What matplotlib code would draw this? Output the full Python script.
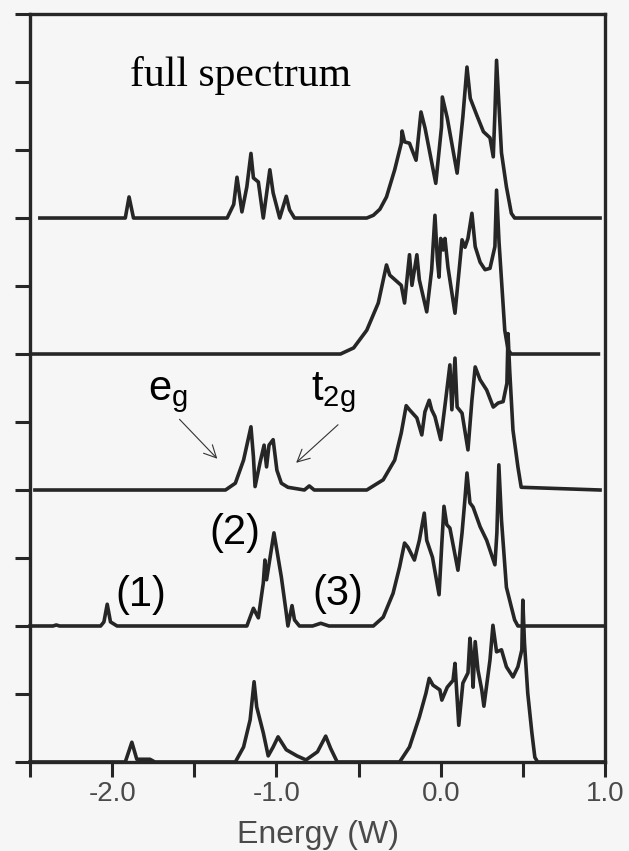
import matplotlib
matplotlib.use('Agg')
import matplotlib.pyplot as plt
import matplotlib.ticker as mticker


# energies (W) and intensities above each curve's own baseline
offsets = [8, 6, 4, 2, 0]

e_full = [-2.44, -1.92, -1.897, -1.87, -1.30, -1.26, -1.24, -1.21, -1.18, -1.155, -1.14, -1.11,
          -1.08, -1.04, -1.02, -0.98, -0.94, -0.92, -0.89, -0.45, -0.41, -0.37, -0.33, -0.28,
          -0.24, -0.235, -0.22, -0.19, -0.15, -0.12, -0.095, -0.03, 0.005, 0.01, 0.04, 0.10,
          0.135, 0.16, 0.18, 0.22, 0.26, 0.30, 0.32, 0.33, 0.34, 0.37, 0.40, 0.43, 0.45, 0.97]
i_full = [0, 0, 0.31, 0, 0, 0.2, 0.6, 0.09, 0.46, 0.95, 0.59, 0.53,
          0.0, 0.71, 0.37, 0.0, 0.32, 0.12, 0, 0, 0.04, 0.13, 0.31, 0.71,
          1.1, 1.28, 1.12, 1.1, 0.85, 1.56, 1.32, 0.51, 1.34, 1.78, 1.47, 0.66,
          1.49, 2.22, 1.76, 1.51, 1.27, 1.18, 0.9, 1.54, 2.32, 0.96, 0.46, 0.07, 0, 0]

e_b = [-2.49, -0.61, -0.53, -0.45, -0.38, -0.33, -0.31, -0.24, -0.22, -0.19, -0.175, -0.145,
       -0.13, -0.085, -0.055, -0.035, -0.02, -0.01, 0.0, 0.015, 0.026, 0.044, 0.087, 0.13,
       0.148, 0.166, 0.19, 0.21, 0.24, 0.27, 0.30, 0.33, 0.34, 0.355, 0.39, 0.41, 0.43, 0.96]
i_b = [0, 0, 0.09, 0.35, 0.75, 1.31, 1.16, 1.01, 0.75, 1.46, 1.01, 1.46,
       1.09, 0.62, 1.24, 2.04, 1.38, 1.13, 1.7, 1.53, 1.7, 1.28, 0.6, 1.68,
       1.57, 1.7, 2.07, 1.58, 1.35, 1.24, 1.26, 1.58, 2.41, 1.65, 0.35, 0.06, 0, 0]

e_c = [-2.47, -1.31, -1.25, -1.2, -1.155, -1.14, -1.13, -1.10, -1.075, -1.06, -1.045, -1.02,
       -0.997, -0.97, -0.93, -0.83, -0.80, -0.77, -0.45, -0.35, -0.28, -0.24, -0.21, -0.19,
       -0.145, -0.115, -0.096, -0.07, -0.055, -0.035, 0.0, 0.03, 0.056, 0.068, 0.087, 0.10,
       0.13, 0.166, 0.19, 0.21, 0.24, 0.28, 0.32, 0.35, 0.38, 0.403, 0.41, 0.42, 0.44, 0.47,
       0.49, 0.97]
i_c = [0, 0, 0.1, 0.44, 0.93, 0.49, 0.05, 0.4, 0.66, 0.34, 0.66, 0.74,
       0.29, 0.1, 0.04, 0, 0.06, 0, 0, 0.15, 0.44, 0.84, 1.24, 1.18,
       1.06, 0.81, 1.15, 1.32, 1.18, 1.08, 0.74, 1.32, 1.84, 1.18, 1.94, 1.22,
       1.13, 0.59, 1.32, 1.81, 1.62, 1.47, 1.22, 1.28, 1.3, 1.57, 2.3, 1.76, 0.88, 0.34,
       0.04, 0]

e_d = [-2.5, -2.36, -2.34, -2.32, -2.07, -2.05, -2.03, -2.01, -1.97, -1.18, -1.14, -1.11,
       -1.08, -1.07, -1.06, -1.015, -0.97, -0.94, -0.93, -0.905, -0.89, -0.86, -0.78, -0.73,
       -0.68, -0.41, -0.35, -0.29, -0.25, -0.22, -0.20, -0.16, -0.13, -0.10, -0.085, -0.05,
       -0.01, 0.007, 0.02, 0.037, 0.056, 0.105, 0.13, 0.147, 0.16, 0.178, 0.197, 0.24,
       0.28, 0.33, 0.342, 0.354, 0.37, 0.40, 0.43, 0.45, 0.47, 1.0]
i_d = [0, 0, 0.015, 0, 0, 0.06, 0.32, 0.06, 0, 0, 0.26, 0.12,
       0.63, 0.97, 0.68, 1.37, 0.72, 0.19, 0.0, 0.3, 0.09, 0, 0, 0.04,
       0, 0, 0.13, 0.48, 0.87, 1.22, 1.16, 0.97, 1.26, 1.66, 1.26, 1.01,
       0.46, 1.22, 1.76, 1.49, 1.44, 0.82, 1.37, 1.85, 2.25, 1.81, 1.75, 1.46,
       1.26, 0.9, 1.37, 2.37, 1.56, 0.57, 0.28, 0.09, 0, 0]

e_e = [-2.5, -1.92, -1.88, -1.85, -1.77, -1.74, -1.25, -1.2, -1.16, -1.136, -1.12, -1.08,
       -1.05, -1.02, -0.99, -0.94, -0.875, -0.82, -0.75, -0.70, -0.67, -0.63, -0.25, -0.19,
       -0.13, -0.09, -0.07, -0.047, -0.005, 0.007, 0.04, 0.075, 0.087, 0.11, 0.135, 0.166,
       0.178, 0.19, 0.197, 0.21, 0.227, 0.25, 0.263, 0.30, 0.318, 0.34, 0.37, 0.40,
       0.44, 0.47, 0.494, 0.50, 0.51, 0.53, 0.555, 0.573, 0.59, 1.0]
i_e = [0, 0, 0.29, 0.04, 0.04, 0, 0, 0.22, 0.62, 1.18, 0.81, 0.43,
       0.09, 0.22, 0.37, 0.18, 0.09, 0.03, 0.15, 0.38, 0.2, 0, 0, 0.22,
       0.66, 1.01, 1.23, 1.13, 1.06, 0.91, 1.1, 1.2, 1.45, 0.54, 1.16, 1.31,
       1.82, 1.5, 1.1, 1.77, 1.35, 1.06, 0.82, 1.5, 2.01, 1.62, 1.65, 1.4,
       1.25, 1.4, 1.65, 2.38, 1.75, 1.01, 0.43, 0.07, 0, 0]

energies = [e_full, e_b, e_c, e_d, e_e]
intensities = [i_full, i_b, i_c, i_d, i_e]

x_ticks = [-2.5, -2.0, -1.5, -1.0, -0.5, 0.0, 0.5, 1.0]
x_ticklabels = ['', '-2.0', '', '-1.0', '', '0.0', '', '1.0']
y_ticks = list(range(0, 12))

line_col = '#262626'
bg = '#f6f6f6'

fig = plt.figure(figsize=(6.29, 8.51), dpi=100, facecolor=bg)
ax = fig.add_axes([0.0477, 0.1046, 0.9141, 0.8789], facecolor=bg)

for e, i, off in zip(energies, intensities, offsets):
    ax.plot(e, [v + off for v in i], color=line_col, lw=2.6, solid_joinstyle='round',
            clip_on=False, zorder=3)

ax.set_xlim(-2.5, 1.0)
ax.set_ylim(0, 11)
ax.xaxis.set_major_locator(mticker.FixedLocator(x_ticks))
ax.xaxis.set_major_formatter(mticker.FixedFormatter(x_ticklabels))
ax.yaxis.set_major_locator(mticker.FixedLocator(y_ticks))
ax.set_yticklabels([])
ax.tick_params(axis='both', direction='out', length=11, width=2.2, color=line_col)
ax.tick_params(axis='x', pad=3, labelsize=20, labelcolor='#4a4a4a')
for tl in ax.get_xticklabels():
    tl.set_family('Liberation Sans')
for sp in ax.spines.values():
    sp.set_linewidth(2.4)
    sp.set_color(line_col)

fig.text(0.5056, 0.0094, 'Energy (W)', ha='center', va='baseline', fontsize=23,
         color='#4a4a4a', family='Liberation Sans')

ax.text(-1.89, 9.94, 'full spectrum', fontsize=30, family='Liberation Serif',
        ha='left', va='baseline', color='black')

lab = dict(fontsize=30, family='Liberation Sans', ha='left', va='baseline', color='black')
ax.text(-1.78, 5.32, r'$\mathregular{e_g}$', **lab)
ax.text(-0.79, 5.32, r'$\mathregular{t_{2g}}$', **lab)
ax.text(-1.98, 2.29, '(1)', **lab)
ax.text(-1.41, 3.20, '(2)', **lab)
ax.text(-0.78, 2.31, '(3)', **lab)

arrow = dict(arrowstyle='->', lw=0.8, color='#333333', mutation_scale=22, shrinkA=0, shrinkB=0)
ax.annotate('', xy=(-1.36, 4.46), xytext=(-1.59, 5.04), arrowprops=arrow)
ax.annotate('', xy=(-0.88, 4.40), xytext=(-0.625, 4.96), arrowprops=arrow)

fig.savefig('out.png', dpi=100, facecolor=bg)
